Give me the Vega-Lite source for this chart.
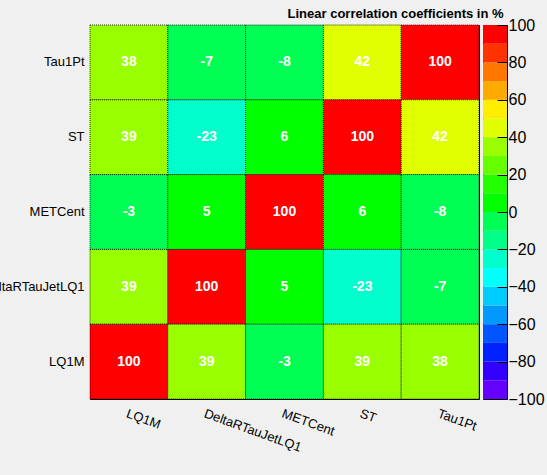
{
  "$schema": "https://vega.github.io/schema/vega-lite/v6.json",
  "background": "#f0f0f0",
  "padding": {"left": -19, "top": 7, "right": 5, "bottom": 33},
  "title": {"text": "Linear correlation coefficients in %", "anchor": "end", "fontSize": 13, "fontWeight": "bold", "font": "Liberation Sans", "color": "#000", "offset": -4, "dx": -41},
  "config": {
    "font": "Liberation Sans",
    "concat": {"spacing": 2},
    "axis": {"labelFont": "Liberation Sans", "labelColor": "#000", "grid": false}
  },
  "datasets": {
    "cells": [
      {"xv": "LQ1M", "yv": "Tau1Pt", "r": 38},
      {"xv": "DeltaRTauJetLQ1", "yv": "Tau1Pt", "r": -7},
      {"xv": "METCent", "yv": "Tau1Pt", "r": -8},
      {"xv": "ST", "yv": "Tau1Pt", "r": 42},
      {"xv": "Tau1Pt", "yv": "Tau1Pt", "r": 100},
      {"xv": "LQ1M", "yv": "ST", "r": 39},
      {"xv": "DeltaRTauJetLQ1", "yv": "ST", "r": -23},
      {"xv": "METCent", "yv": "ST", "r": 6},
      {"xv": "ST", "yv": "ST", "r": 100},
      {"xv": "Tau1Pt", "yv": "ST", "r": 42},
      {"xv": "LQ1M", "yv": "METCent", "r": -3},
      {"xv": "DeltaRTauJetLQ1", "yv": "METCent", "r": 5},
      {"xv": "METCent", "yv": "METCent", "r": 100},
      {"xv": "ST", "yv": "METCent", "r": 6},
      {"xv": "Tau1Pt", "yv": "METCent", "r": -8},
      {"xv": "LQ1M", "yv": "DeltaRTauJetLQ1", "r": 39},
      {"xv": "DeltaRTauJetLQ1", "yv": "DeltaRTauJetLQ1", "r": 100},
      {"xv": "METCent", "yv": "DeltaRTauJetLQ1", "r": 5},
      {"xv": "ST", "yv": "DeltaRTauJetLQ1", "r": -23},
      {"xv": "Tau1Pt", "yv": "DeltaRTauJetLQ1", "r": -7},
      {"xv": "LQ1M", "yv": "LQ1M", "r": 100},
      {"xv": "DeltaRTauJetLQ1", "yv": "LQ1M", "r": 39},
      {"xv": "METCent", "yv": "LQ1M", "r": -3},
      {"xv": "ST", "yv": "LQ1M", "r": 39},
      {"xv": "Tau1Pt", "yv": "LQ1M", "r": 38}
    ],
    "palette": [
      {"lo": -100, "hi": -90}, {"lo": -90, "hi": -80}, {"lo": -80, "hi": -70}, {"lo": -70, "hi": -60},
      {"lo": -60, "hi": -50}, {"lo": -50, "hi": -40}, {"lo": -40, "hi": -30}, {"lo": -30, "hi": -20},
      {"lo": -20, "hi": -10}, {"lo": -10, "hi": 0}, {"lo": 0, "hi": 10}, {"lo": 10, "hi": 20},
      {"lo": 20, "hi": 30}, {"lo": 30, "hi": 40}, {"lo": 40, "hi": 50}, {"lo": 50, "hi": 60},
      {"lo": 60, "hi": 70}, {"lo": 70, "hi": 80}, {"lo": 80, "hi": 90}, {"lo": 90, "hi": 100}
    ]
  },
  "hconcat": [
    {
      "width": 389,
      "height": 374,
      "view": {"stroke": "#000", "strokeWidth": 1},
      "data": {"name": "cells"},
      "encoding": {
        "x": {"field": "xv", "type": "nominal", "sort": ["LQ1M", "DeltaRTauJetLQ1", "METCent", "ST", "Tau1Pt"],
              "scale": {"paddingInner": 0, "paddingOuter": 0},
              "axis": {"title": null, "ticks": false, "domain": false, "labelAngle": 20, "labelAlign": "left", "labelBaseline": "top", "labelFontSize": 13, "labelPadding": 8}},
        "y": {"field": "yv", "type": "nominal", "sort": ["Tau1Pt", "ST", "METCent", "DeltaRTauJetLQ1", "LQ1M"],
              "scale": {"paddingInner": 0, "paddingOuter": 0},
              "axis": {"title": null, "ticks": false, "domain": false, "labelFontSize": 13, "labelPadding": 6, "labelLimit": 300}}
      },
      "layer": [
        {
          "mark": {"type": "rect", "stroke": "#000", "strokeWidth": 0.8, "strokeDash": [1, 1]},
          "encoding": {
            "color": {"field": "r", "type": "quantitative", "legend": null,
              "scale": {"type": "threshold",
                "domain": [-90, -80, -70, -60, -50, -40, -30, -20, -10, 0, 10, 20, 30, 40, 50, 60, 70, 80, 90],
                "range": ["#6600ff", "#3300ff", "#0022ff", "#0055ff", "#0099ff", "#00ccff", "#00ffff", "#00ffcc", "#00ff88", "#00ff55", "#00ff00", "#22ff00", "#66ff00", "#99ff00", "#e0ff00", "#ffee00", "#ffaa00", "#ff7700", "#ff3300", "#ff0000"]}}
          }
        },
        {
          "mark": {"type": "text", "color": "#fff", "fontWeight": "bold", "fontSize": 14, "font": "Liberation Sans"},
          "encoding": {"text": {"field": "r", "type": "nominal"}}
        }
      ]
    },
    {
      "width": 24,
      "height": 374,
      "view": {"stroke": "#000", "strokeWidth": 1},
      "data": {"name": "palette"},
      "mark": {"type": "rect"},
      "encoding": {
        "y": {"field": "lo", "type": "quantitative", "scale": {"domain": [-100, 100], "nice": false, "zero": false},
              "axis": {"orient": "right", "title": null, "values": [-100, -80, -60, -40, -20, 0, 20, 40, 60, 80, 100], "offset": -10, "tickSize": 10, "tickColor": "#000", "tickWidth": 1, "zindex": 2, "domain": false, "labelFontSize": 16, "labelPadding": 1, "labelFlush": false}},
        "y2": {"field": "hi"},
        "color": {"field": "lo", "type": "quantitative", "legend": null,
          "scale": {"type": "threshold",
            "domain": [-90, -80, -70, -60, -50, -40, -30, -20, -10, 0, 10, 20, 30, 40, 50, 60, 70, 80, 90],
            "range": ["#6600ff", "#3300ff", "#0022ff", "#0055ff", "#0099ff", "#00ccff", "#00ffff", "#00ffcc", "#00ff88", "#00ff55", "#00ff00", "#22ff00", "#66ff00", "#99ff00", "#e0ff00", "#ffee00", "#ffaa00", "#ff7700", "#ff3300", "#ff0000"]}}
      }
    }
  ]
}
